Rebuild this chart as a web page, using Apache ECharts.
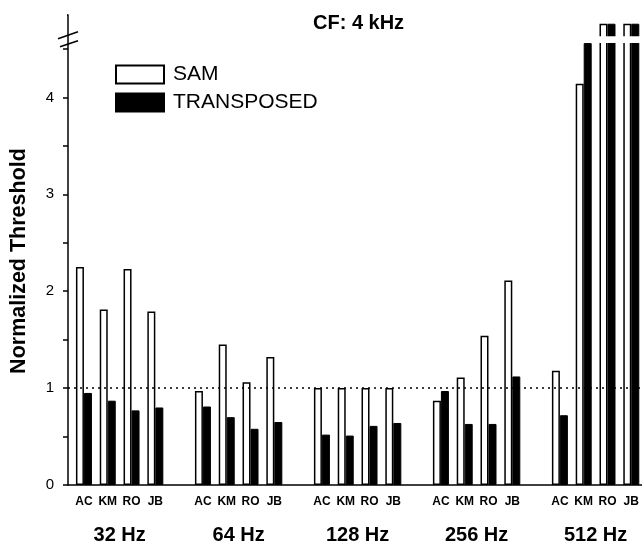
<!DOCTYPE html>
<html>
<head>
	<meta charset="utf-8">
	<title>CF: 4 kHz</title>
	<script src="https://cdn.jsdelivr.net/npm/echarts@6/dist/echarts.min.js"></script>
	<style>
		html, body { margin: 0; padding: 0; background: #fff; }
		#main { width: 642px; height: 548px; }
	</style>
</head>
<body>
<div id="main"></div>
<script type="text/javascript">
// subjects inside each modulation-rate group
var subjects = ['AC', 'KM', 'RO', 'JB'];
var groups = ['32 Hz', '64 Hz', '128 Hz', '256 Hz', '512 Hz'];
// normalized thresholds, group by group (AC, KM, RO, JB)
var samValues = [
	2.25, 1.81, 2.23, 1.79,
	0.97, 1.45, 1.06, 1.32,
	1.00, 1.00, 1.00, 1.00,
	0.87, 1.11, 1.54, 2.11,
	1.18, 4.14, 4.76, 4.76
];
var transposedValues = [
	0.95, 0.87, 0.77, 0.80,
	0.81, 0.70, 0.58, 0.65,
	0.52, 0.51, 0.61, 0.64,
	0.97, 0.63, 0.63, 1.12,
	0.72, 4.56, 4.76, 4.76
];
var yLabels = [0, 1, 2, 3, 4];
var yMax = 4.85;
var breakRange = [4.56, 4.63];

var slot = 5; // 4 subjects + 1 empty slot per group
var font = 'Liberation Sans, Arial, sans-serif';

function pos(i) {
	return Math.floor(i / 4) * slot + (i % 4);
}
var samData = samValues.map(function (v, i) { return [pos(i), v]; });
var trData = transposedValues.map(function (v, i) { return [pos(i), v]; });
var subjectPos = [], groupPos = [];
groups.forEach(function (g, gi) {
	subjects.forEach(function (s, si) { subjectPos.push(gi * slot + si); });
	groupPos.push(gi * slot + 1.5);
});

var myChart = echarts.init(document.getElementById('main'));

var option = {
	animation: false,
	backgroundColor: '#fff',
	title: {
		text: 'CF: 4 kHz',
		left: 308,
		top: 8,
		textStyle: { fontFamily: font, fontSize: 20, fontWeight: 'bold', color: '#000' }
	},
	legend: {
		orient: 'vertical',
		left: 115,
		top: 64,
		padding: 0,
		itemWidth: 48,
		itemHeight: 18,
		itemGap: 7,
		icon: 'rect',
		textStyle: { fontFamily: font, fontSize: 21, color: '#000', padding: [0, 0, 0, 4] },
		data: ['SAM', 'TRANSPOSED']
	},
	grid: { left: 68, right: 0, top: 15, bottom: 63 },
	xAxis: [{
		type: 'value',
		min: -0.67,
		max: 23.45,
		splitLine: { show: false },
		axisLine: { onZero: false, lineStyle: { color: '#000', width: 1.5 } },
		axisTick: { show: false },
		axisLabel: {
			customValues: subjectPos,
			formatter: function (v) { return subjects[Math.round(v) % slot] || ''; },
			margin: 11,
			fontFamily: font, fontSize: 12, fontWeight: 'bold', color: '#000'
		}
	}, {
		type: 'value',
		position: 'bottom',
		min: -0.67,
		max: 23.45,
		splitLine: { show: false },
		axisLine: { show: false, onZero: false },
		axisTick: { show: false },
		axisLabel: {
			customValues: groupPos,
			formatter: function (v) { return groups[Math.floor(v / slot)] || ''; },
			margin: 40,
			fontFamily: font, fontSize: 20, fontWeight: 'bold', color: '#000'
		}
	}],
	yAxis: {
		type: 'value',
		min: 0,
		max: yMax,
		interval: 0.5,
		name: 'Normalized Threshold',
		nameLocation: 'middle',
		nameGap: 38,
		nameTextStyle: { fontFamily: font, fontSize: 21.5, fontWeight: 'bold', color: '#000', padding: [0, 22, 0, 0] },
		splitLine: { show: false },
		axisLine: { show: true, onZero: false, lineStyle: { color: '#000', width: 1.5 } },
		axisTick: { show: true, inside: false, length: 5, lineStyle: { color: '#000', width: 1.5 } },
		axisLabel: {
			formatter: function (v) { return yLabels.indexOf(v) >= 0 ? String(v) : ''; },
			margin: 14, fontFamily: font, fontSize: 15, color: '#000'
		}
	},
	series: [{
		name: 'SAM',
		type: 'bar',
		barWidth: 8,
		barGap: '0%',
		data: samData,
		itemStyle: { color: '#fff', borderColor: '#000', borderWidth: 1.5 },
		markLine: {
			silent: true,
			symbol: 'none',
			label: { show: false },
			lineStyle: { color: '#000', width: 1.5, type: [2, 4] },
			data: [{ yAxis: 1 }]
		}
	}, {
		name: 'TRANSPOSED',
		type: 'bar',
		barWidth: 8,
		barGap: '0%',
		data: trData,
		itemStyle: { color: '#000', borderColor: '#000', borderWidth: 1 }
	}]
};

myChart.setOption(option);

// axis break marks and the gap in the off-scale bars
var axisX = myChart.convertToPixel({ xAxisIndex: 0 }, -0.67);
var axisTop = myChart.convertToPixel({ yAxisIndex: 0 }, yMax);
var breakY = myChart.convertToPixel({ yAxisIndex: 0 }, (breakRange[0] + breakRange[1]) / 2);
var gapTop = myChart.convertToPixel({ yAxisIndex: 0 }, breakRange[1]);
var gapBottom = myChart.convertToPixel({ yAxisIndex: 0 }, breakRange[0]);
var gapLeft = myChart.convertToPixel({ xAxisIndex: 0 }, 21.5);
myChart.setOption({
	graphic: [{
		// hide the extra tick ECharts puts at the axis end
		type: 'rect',
		z: 100,
		shape: { x: axisX - 8, y: axisTop - 2, width: 7, height: 4 },
		style: { fill: '#fff' }
	}, {
		type: 'rect',
		z: 100,
		shape: { x: gapLeft, y: gapTop, width: 642 - gapLeft, height: gapBottom - gapTop },
		style: { fill: '#fff' }
	}, {
		type: 'line',
		z: 100,
		shape: { x1: axisX - 10, y1: breakY - 1, x2: axisX + 10, y2: breakY - 8 },
		style: { stroke: '#000', lineWidth: 1.5 }
	}, {
		type: 'line',
		z: 100,
		shape: { x1: axisX - 8, y1: breakY + 7, x2: axisX + 10, y2: breakY + 1 },
		style: { stroke: '#000', lineWidth: 1.5 }
	}]
});
</script>
</body>
</html>
